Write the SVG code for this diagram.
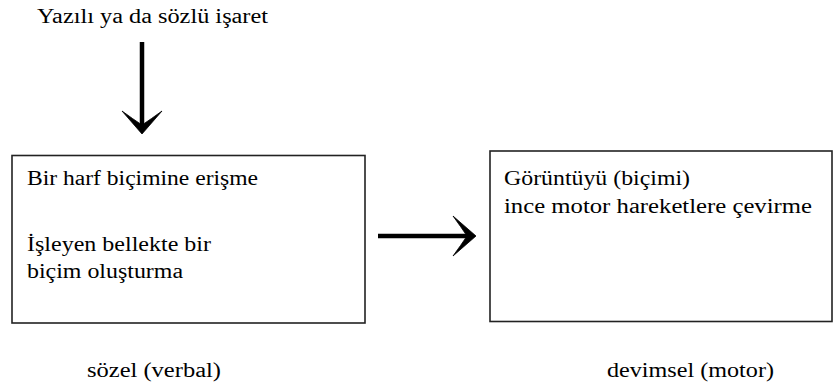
<svg xmlns="http://www.w3.org/2000/svg" width="834" height="388" viewBox="0 0 834 388">
<style>
.t{font-family:'Liberation Serif','Times New Roman',serif;font-size:20px;fill:#000}
.box{fill:#fff;stroke:#222;stroke-width:1.6}
.conn{stroke:#000;stroke-width:4.5;fill:none}
.head{fill:#000;stroke:#000;stroke-width:0.8;stroke-linejoin:miter}
</style>
<rect width="834" height="388" fill="#fff"/>
<g id="title"><text class="t" x="37" y="23" textLength="231" lengthAdjust="spacingAndGlyphs">Yazılı ya da sözlü işaret</text></g>
<g id="node-verbal">
<rect class="box" x="12" y="155.5" width="353" height="167.5"/>
<text class="t" x="27" y="185" textLength="231" lengthAdjust="spacingAndGlyphs">Bir harf biçimine erişme</text>
<text class="t" x="27" y="251" textLength="184" lengthAdjust="spacingAndGlyphs">İşleyen bellekte bir</text>
<text class="t" x="27" y="278" textLength="156" lengthAdjust="spacingAndGlyphs">biçim oluşturma</text>
</g>
<g id="node-motor">
<rect class="box" x="490" y="151" width="342" height="170.5"/>
<text class="t" x="504" y="185" textLength="186" lengthAdjust="spacingAndGlyphs">Görüntüyü (biçimi)</text>
<text class="t" x="504" y="213" textLength="308" lengthAdjust="spacingAndGlyphs">ince motor hareketlere çevirme</text>
</g>
<g id="label-verbal"><text class="t" x="87" y="377" textLength="134" lengthAdjust="spacingAndGlyphs">sözel (verbal)</text></g>
<g id="label-motor"><text class="t" x="607" y="377" textLength="167" lengthAdjust="spacingAndGlyphs">devimsel (motor)</text></g>
<g id="connectors">
<path class="conn" d="M142 42 V126"/>
<path class="head" d="M142 134 L122 111 Q133 119 142 125 Q151 119 162 111 Z"/>
<path class="conn" d="M378 236 H468"/>
<path class="head" d="M476 236 L453 216 Q461 227 467 236 Q461 245 453 256 Z"/>
</g>
</svg>
